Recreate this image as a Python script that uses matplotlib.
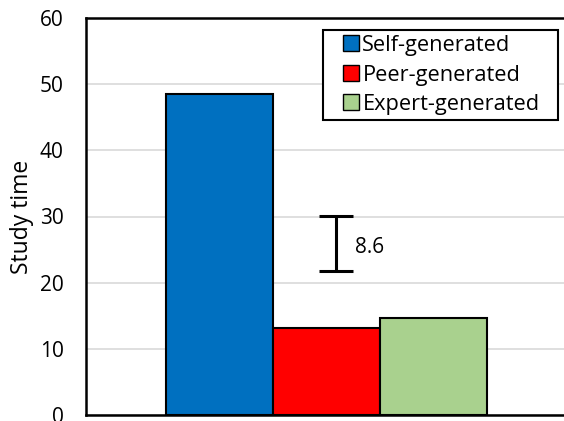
import matplotlib.pyplot as plt
from matplotlib.patches import Rectangle

# study time by source of generated material
groups = ["Self-generated", "Peer-generated", "Expert-generated"]
study_time = [48.5, 13.2, 14.6]
colors = ["#0070C0", "#FF0000", "#A9D18E"]

diff_low, diff_high = 21.8, 30.1
diff_label = "8.6"

plt.rcParams["font.family"] = ["Open Sans", "DejaVu Sans"]

fig = plt.figure(figsize=(5.64, 4.21), dpi=100)
ax = fig.add_axes([86 / 564, 6 / 421, 481 / 564, 397 / 421])

xs = list(range(len(groups)))
for x, v, c, g in zip(xs, study_time, colors, groups):
    ax.bar(x, v, width=1.0, color=c, edgecolor="black", linewidth=1.5,
           label=g, zorder=3)

mid = (diff_low + diff_high) / 2
ax.errorbar(1.09, mid, yerr=(diff_high - diff_low) / 2, fmt="none",
            ecolor="black", elinewidth=2.2, capsize=12, capthick=2.2, zorder=4)
ax.text(1.265, 25.3, diff_label, fontsize=15, va="center", ha="left")

ax.set_xlim(-1.248, 3.248)
ax.set_ylim(0, 60)
ax.set_yticks(range(0, 61, 10))
ax.set_xticks([])
ax.tick_params(axis="y", length=0, pad=16, labelsize=15)
ax.yaxis.grid(True, color="#d9d9d9", linewidth=1.2, zorder=0)
ax.set_axisbelow(True)
for s in ax.spines.values():
    s.set_linewidth(1.8)
ax.set_ylabel("Study time", fontsize=16.5, labelpad=4)

# legend entries without frame, box drawn separately (Excel-style padding)
leg = ax.legend(loc="upper left", bbox_to_anchor=(343 / 564, 386 / 421),
                bbox_transform=fig.transFigure, fontsize=15.7, frameon=False,
                handlelength=0.74, handleheight=0.74, handletextpad=0.15,
                labelspacing=0.39, borderpad=0, borderaxespad=0)
for h in leg.legend_handles:
    h.set_linewidth(1.0)
leg.set_zorder(7)
ax.add_patch(Rectangle((323 / 564, 301 / 421), 235 / 564, 90 / 421,
                       transform=fig.transFigure, clip_on=False,
                       facecolor="white", edgecolor="black",
                       linewidth=1.5, zorder=6))

fig.savefig("out.png", dpi=100)
